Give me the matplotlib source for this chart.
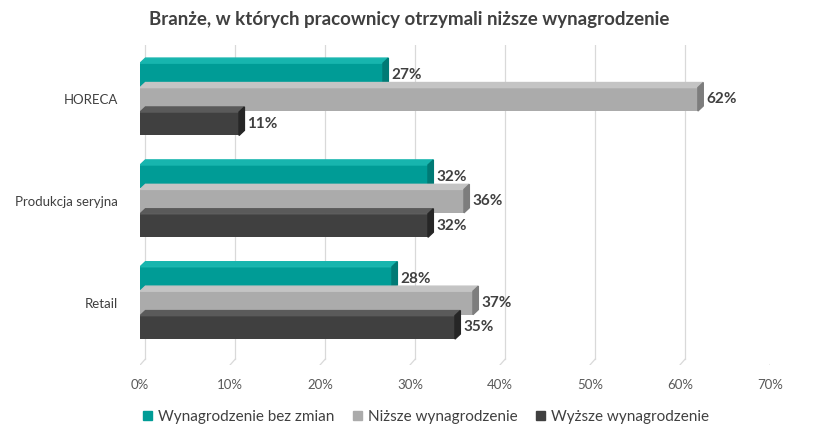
import matplotlib
matplotlib.use("Agg")
import matplotlib.pyplot as plt
from matplotlib.patches import Polygon, Patch
import numpy as np

categories = ["HORECA", "Produkcja seryjna", "Retail"]
series_names = ["Wynagrodzenie bez zmian", "Niższe wynagrodzenie", "Wyższe wynagrodzenie"]
bez_zmian = [27, 32, 28]
nizsze = [62, 36, 37]
wyzsze = [11, 32, 35]
ticks = [0, 10, 20, 30, 40, 50, 60, 70]

front = ["#009C96", "#ABABAB", "#404040"]
topc = ["#17B5AE", "#C4C4C4", "#5A5A5A"]
sidec = ["#007A75", "#7D7D7D", "#262626"]

plt.rcParams["font.family"] = "Lato"
fig = plt.figure(figsize=(8.19, 4.32), dpi=100)
ax = fig.add_axes([0.171, 0.155, 0.769, 0.74])
ax.set_xlim(0, 70)
ax.set_ylim(2.61, -0.53)

for t in ticks:
    ax.plot([t + 0.6, t + 0.6], [-0.53, 2.55], color="#D9D9D9", lw=0.9, zorder=0)
    ax.plot([t, t + 0.6], [2.61, 2.55], color="#D9D9D9", lw=0.9, zorder=0)

dx, dy = 0.6, 0.05
h = 0.23
offs = [-0.24, 0, 0.24]
for s, vals in enumerate([bez_zmian, nizsze, wyzsze]):
    for i, v in enumerate(vals):
        yc = i + offs[s]
        y0, y1 = yc - h / 2, yc + h / 2
        ax.barh(yc, v, height=h, color=front[s], zorder=2 + s)
        ax.add_patch(Polygon([(0, y0), (v, y0), (v + dx, y0 - dy), (dx, y0 - dy)],
                             closed=True, color=topc[s], zorder=2 + s))
        ax.add_patch(Polygon([(v, y0), (v + dx, y0 - dy), (v + dx, y1 - dy), (v, y1)],
                             closed=True, color=sidec[s], zorder=2 + s))
        ax.text(v + dx + 0.3, yc, f"{v}%", va="center", ha="left",
                fontsize=11, fontweight="bold", color="#404040", zorder=10)

ax.set_yticks(range(len(categories)))
ax.set_yticklabels(categories, fontsize=9.5, color="#404040")
ax.set_xticks(ticks)
ax.set_xticklabels([f"{t}%" for t in ticks], fontsize=9.5, color="#595959")
ax.tick_params(length=0, pad=10)
ax.tick_params(axis="y", pad=16)
for sp in ax.spines.values():
    sp.set_visible(False)

fig.text(0.5, 0.955, "Branże, w których pracownicy otrzymali niższe wynagrodzenie",
         ha="center", va="center", fontsize=13.5, fontweight="bold", color="#404040")
handles = [Patch(color=c) for c in front]
fig.legend(handles, series_names, loc="center", bbox_to_anchor=(0.52, 0.035), ncol=3,
           frameon=False, fontsize=11, handlelength=0.6, handleheight=0.6,
           columnspacing=1.2, handletextpad=0.4, labelcolor="#404040")
fig.savefig("out.png", dpi=100)
